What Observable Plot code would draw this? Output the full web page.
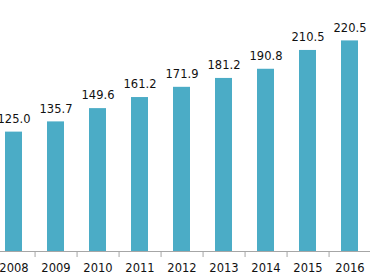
<!DOCTYPE html>
<html>
<head>
<meta charset="utf-8">
<script src="https://cdn.jsdelivr.net/npm/d3@7"></script>
<script src="https://cdn.jsdelivr.net/npm/@observablehq/plot@0.6"></script>
<style>
  html, body { margin: 0; padding: 0; background: #fff; }
  #chart svg { display: block; }
</style>
</head>
<body>
<div id="chart"></div>
<script>
const years = ["2008", "2009", "2010", "2011", "2012", "2013", "2014", "2015", "2016"];
const values = [125.0, 135.7, 149.6, 161.2, 171.9, 181.2, 190.8, 210.5, 220.5];
const data = years.map((y, i) => ({year: y, value: values[i]}));

const barColor = "#4bacc6";
const font = "'DejaVu Sans', sans-serif";

const chart = Plot.plot({
  width: 370,
  height: 278,
  marginTop: 0,
  marginBottom: 27,
  marginLeft: 0,
  marginRight: 0,
  style: {fontFamily: font, background: "#fff"},
  x: {domain: years, range: [-8.6, 370.6], paddingInner: 0.6, paddingOuter: 0.3, align: 0.5, label: null},
  y: {domain: [0, 262.8], axis: null},
  marks: [
    Plot.barY(data, {x: "year", y: "value", fill: barColor}),
    Plot.ruleY([0], {stroke: "#a6a6a6", strokeWidth: 1}),
    Plot.ruleX(data, {x: "year", y1: 0, y2: -6.3, dx: 21.07, stroke: "#a6a6a6", strokeWidth: 1}),
    Plot.text(data, {x: "year", y: "value", text: d => d.value.toFixed(1), dy: -13, fontSize: 11.5, fill: "#111"}),
    Plot.axisX({tickSize: 0, tickPadding: 12, fontSize: 11.5, color: "#111", label: null})
  ]
});
document.getElementById("chart").appendChild(chart);
</script>
</body>
</html>
